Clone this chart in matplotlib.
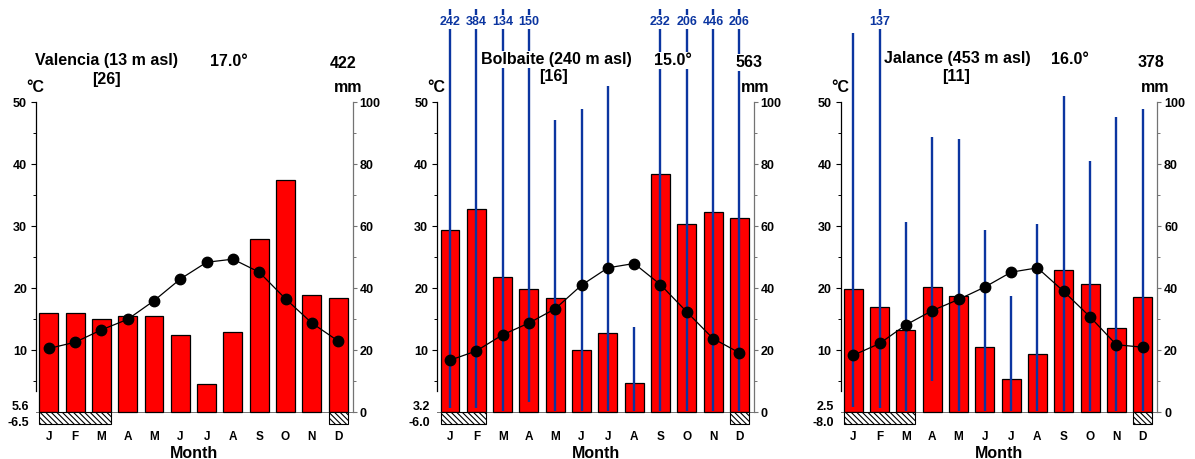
import numpy as np
import matplotlib
matplotlib.use("Agg")
import matplotlib.pyplot as plt

W, H = 1195, 459
plt.rcParams.update({
    "font.family": ["Liberation Sans", "DejaVu Sans"], "font.weight": "bold",
    "axes.labelweight": "bold", "hatch.linewidth": 0.8,
})
RED = "#FF0000"; BLUE = "#0B35A0"; GREY = "0.45"

# ---------- data (precipitation in mm, temperature in degC) ----------
months = ["J", "F", "M", "A", "M", "J", "J", "A", "S", "O", "N", "D"]
stations = ["Valencia (13 m asl)", "Bolbaite (240 m asl)", "Jalance (453 m asl)"]
years = ["[26]", "[16]", "[11]"]
mean_temp = ["17.0°", "15.0°", "16.0°"]
annual_prec = ["422", "563", "378"]
min_labels = [("5.6", "-6.5"), ("3.2", "-6.0"), ("2.5", "-8.0")]
frost_months = [[0, 1, 2, 11], [0, 1, 11], [0, 1, 2, 11]]

temp_valencia = [10.3, 11.3, 13.3, 15.0, 18.0, 21.5, 24.2, 24.7, 22.6, 18.3, 14.4, 11.5]
prec_valencia = [32, 32, 30, 31, 31, 25, 9, 26, 56, 75, 38, 37]

temp_bolbaite = [8.4, 9.9, 12.5, 14.4, 16.7, 20.5, 23.3, 24.0, 20.6, 16.2, 11.9, 9.6]
prec_bolbaite = [58.7, 65.5, 43.5, 39.7, 36.8, 20.1, 25.5, 9.5, 76.9, 60.6, 64.6, 62.6]
pmax_bolbaite = [242, 384, 134, 150, 94.3, 97.8, 105.3, 27.5, 232, 206, 446, 206]
pmin_bolbaite = [1.3, 1.3, 0.5, 3.4, 0.5, 0.5, 0.5, 0.5, 0.5, 0.5, 0.5, 0.5]

temp_jalance = [9.2, 11.1, 14.1, 16.4, 18.2, 20.2, 22.6, 23.3, 19.5, 15.4, 10.9, 10.5]
prec_jalance = [39.7, 34.0, 26.5, 40.4, 37.5, 21.0, 10.8, 18.7, 45.8, 41.3, 27.3, 37.2]
pmax_jalance = [122.3, 137, 61.4, 88.8, 88.1, 58.8, 37.5, 60.8, 102.1, 81.1, 95.3, 97.8]
pmin_jalance = [1.8, 1.3, 0.5, 10.2, 0.5, 0.5, 0.5, 0.5, 0.5, 0.5, 0.5, 0.5]

temps = [temp_valencia, temp_bolbaite, temp_jalance]
precs = [prec_valencia, prec_bolbaite, prec_jalance]
pmaxs = [None, pmax_bolbaite, pmax_jalance]
pmins = [None, pmin_bolbaite, pmin_jalance]
CLIP = 130  # range lines are cut here and labelled

# ---------- layout (pixels) ----------
AX_LEFT = [36.2, 437.4, 840.7]; AX_W = 316.4; AX_TOP = 3.1; AX_BOT = 455.7
# text anchors: (x, baseline y)
title_xy = [(106, 65.5), (556, 64), (957, 63.5)]
year_xy = [(106, 84), (554, 81), (956, 81)]
tmean_xy = [(229, 65.5), (673, 65), (1070, 63.5)]
pann_xy = [(343, 68), (749, 67), (1151, 67)]
degc_xy = [(35, 92), (436, 92), (840, 92)]
mm_xy = [(348, 92), (755, 92), (1155, 92)]

fig = plt.figure(figsize=(W / 100, H / 100), dpi=100)

def put(px, py, s, **kw):
    kw.setdefault("ha", "center"); kw.setdefault("va", "baseline")
    fig.text(px / W, 1 - py / H, s, **kw)

wbox = dict(fc="white", ec="none", pad=1.0)
x = np.arange(12)
for k in range(3):
    ax = fig.add_axes([AX_LEFT[k] / W, 1 - AX_BOT / H, AX_W / W, (AX_BOT - AX_TOP) / H])
    ax.set_xlim(-0.48, 11.55); ax.set_ylim(-14, 132)
    ax.patch.set_visible(False)
    ax.axhline(0, color="0.45", lw=0.7, zorder=1.5)
    ax.bar(x, precs[k], width=0.72, color=RED, edgecolor="black", lw=0.9, zorder=2)
    if pmaxs[k] is not None:
        hi = np.minimum(pmaxs[k], CLIP)
        ax.vlines(x, pmins[k], hi, color=BLUE, lw=1.7, zorder=3)
        for i, v in enumerate(pmaxs[k]):
            if v > CLIP:
                ax.text(i, 124.9, f"{v:.0f}", ha="center", va="baseline", fontsize=9,
                        color=BLUE, bbox=dict(fc="white", ec="none", pad=1.0), zorder=6)
    ax.plot(x, 2 * np.array(temps[k]), color="black", lw=0.9, marker="o", ms=7.5, zorder=4)
    # frost months: hatched boxes under the zero line
    fm = frost_months[k]; runs = []; start = fm[0]
    for a, b in zip(fm, fm[1:] + [None]):
        if b != a + 1:
            runs.append((start, a)); start = b
    for s, e in runs:
        ax.bar((s + e) / 2, -3.7, width=(e - s) + 0.72, color="white", edgecolor="black",
               lw=0.8, hatch="\\" * 6, zorder=2)

    for side in ["top", "right"]:
        ax.spines[side].set_visible(False)
    ax.spines["bottom"].set_position(("data", -3.7)); ax.spines["bottom"].set_visible(False)
    ax.spines["left"].set_bounds(7, 100); ax.spines["left"].set_linewidth(0.9)
    ax.set_yticks([20, 40, 60, 80, 100]); ax.set_yticklabels(["10", "20", "30", "40", "50"])
    ax.set_yticks([10, 30, 50, 70, 90], minor=True)
    ax.tick_params(axis="y", which="major", length=3.6, width=0.8, pad=3, labelsize=9)
    ax.tick_params(axis="y", which="minor", length=2, width=0.7)
    ax.set_xticks(x); ax.set_xticklabels(months)
    ax.tick_params(axis="x", length=0, pad=5.5, labelsize=8.5)
    ax.set_xlabel("Month", fontsize=11.5, labelpad=2)

    ax2 = ax.twinx(); ax2.set_ylim(-14, 132)
    for side in ["top", "left", "bottom"]:
        ax2.spines[side].set_visible(False)
    ax2.spines["right"].set_bounds(0, 100); ax2.spines["right"].set_color(GREY)
    ax2.spines["right"].set_linewidth(0.9)
    ax2.set_yticks([0, 20, 40, 60, 80, 100]); ax2.set_yticks([10, 30, 50, 70, 90], minor=True)
    ax2.tick_params(axis="y", which="major", length=3, width=0.8, pad=2, labelsize=9, color=GREY)
    ax2.tick_params(axis="y", which="minor", length=2, width=0.7, color=GREY)

    # header texts
    put(*title_xy[k], stations[k], fontsize=11.5, bbox=wbox)
    put(*year_xy[k], years[k], fontsize=11.5, bbox=wbox)
    put(*tmean_xy[k], mean_temp[k], fontsize=11.5, bbox=wbox)
    put(*pann_xy[k], annual_prec[k], fontsize=11.5, bbox=wbox)
    put(*degc_xy[k], "°C", fontsize=11.5)
    put(*mm_xy[k], "mm", fontsize=11.5)
    put(AX_LEFT[k] - 7, 410, min_labels[k][0], fontsize=9, ha="right")
    put(AX_LEFT[k] - 7, 425.5, min_labels[k][1], fontsize=9, ha="right")

fig.savefig("out.png", dpi=100)
